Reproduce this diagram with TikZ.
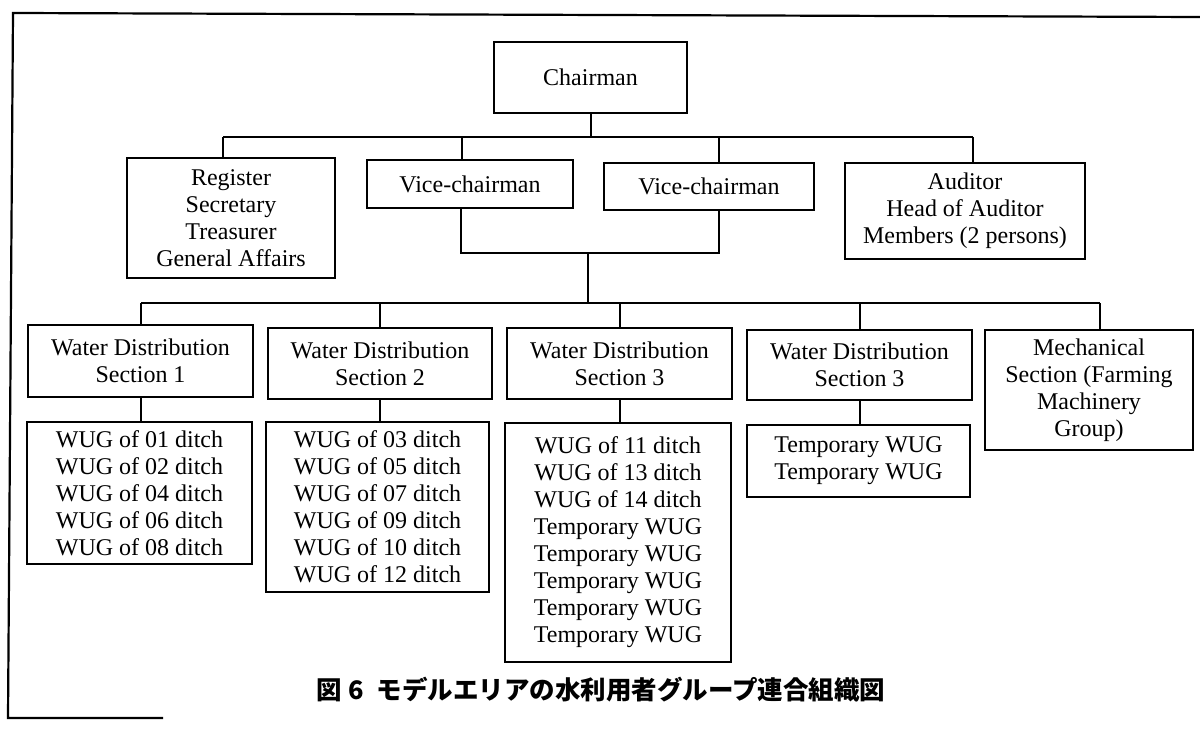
\documentclass[tikz,border=0pt]{standalone}
\usepackage{fontspec}
\setmainfont{Liberation Serif}
\newfontfamily\cjkfont{Noto Sans CJK JP}
\usetikzlibrary{calc}
\begin{document}
\begin{tikzpicture}[x=1pt,y=-1pt,
  box/.style={draw, line width=2pt, rectangle, inner sep=0pt, align=center,
    font=\fontsize{24}{27}\selectfont},
  conn/.style={line width=2pt},
  frameline/.style={line width=2.2pt}]
\useasboundingbox (0,0) rectangle (1200,730);
\fill[white] (0,0) rectangle (1200,730);
% frame
\draw[frameline] (1200,17) -- (13,13) -- (8,718) -- (163,718);
% top level
\node[box, minimum width=193pt, minimum height=71pt] (chair) at (590.5,77.5) {Chairman};
\node[box, minimum width=208pt, minimum height=120pt] (reg) at (231,218) {Register\\Secretary\\Treasurer\\General Affairs};
\node[box, minimum width=206pt, minimum height=48pt] (vc1) at (470,184) {Vice-chairman};
\node[box, minimum width=210pt, minimum height=47pt] (vc2) at (709,186.5) {Vice-chairman};
\node[box, minimum width=240pt, minimum height=96pt] (aud) at (965,211) {Auditor\\Head of Auditor\\Members (2 persons)};
% sections
\node[box, minimum width=225pt, minimum height=72pt] (wds1) at (140.5,361) {Water Distribution\\Section 1};
\node[box, minimum width=224pt, minimum height=71pt] (wds2) at (380,363.5) {Water Distribution\\Section 2};
\node[box, minimum width=225pt, minimum height=71pt] (wds3) at (619.5,363.5) {Water Distribution\\Section 3};
\node[box, minimum width=225pt, minimum height=70pt] (wds4) at (859.5,365) {Water Distribution\\Section 3};
\node[box, minimum width=208pt, minimum height=120pt] (mech) at (1089,390) {Mechanical\\Section (Farming\\Machinery\\Group)};
% WUG boxes
\node[box, minimum width=225pt, minimum height=142pt] (wug1) at (139.5,493) {WUG of 01 ditch\\WUG of 02 ditch\\WUG of 04 ditch\\WUG of 06 ditch\\WUG of 08 ditch};
\node[box, minimum width=223pt, minimum height=170pt] (wug2) at (377.5,507) {WUG of 03 ditch\\WUG of 05 ditch\\WUG of 07 ditch\\WUG of 09 ditch\\WUG of 10 ditch\\WUG of 12 ditch};
\node[box, minimum width=226pt, minimum height=239pt] (wug3) at (618,542.5) {WUG of 11 ditch\\WUG of 13 ditch\\WUG of 14 ditch\\Temporary WUG\\Temporary WUG\\Temporary WUG\\Temporary WUG\\Temporary WUG};
\node[box, minimum width=223pt, minimum height=72pt] (wug4) at (858.5,461) {Temporary WUG\\Temporary WUG};
% connectors: chairman level
\coordinate (busA) at (590,137);
\coordinate (dA1) at (223,137);
\coordinate (dA2) at (462,137);
\coordinate (dA3) at (719,137);
\coordinate (dA4) at (973,137);
\draw[conn] (chair.south) -- (chair.south |- busA);
\draw[conn] (dA1) -- (dA4);
\draw[conn] (dA1) -- (dA1 |- reg.north);
\draw[conn] (dA2) -- (dA2 |- vc1.north);
\draw[conn] (dA3) -- (dA3 |- vc2.north);
\draw[conn] (dA4) -- (dA4 |- aud.north);
% vice-chairmen join
\coordinate (m1) at (461,253);
\coordinate (m2) at (719,253);
\coordinate (mc) at (588,253);
\coordinate (busB) at (588,303);
\draw[conn] (m1 |- vc1.south) -- (m1) -- (m2) -- (m2 |- vc2.south);
\draw[conn] (mc) -- (busB);
% section bus
\coordinate (dB1) at (141,303);
\coordinate (dB2) at (380,303);
\coordinate (dB3) at (620,303);
\coordinate (dB4) at (860,303);
\coordinate (dB5) at (1100,303);
\draw[conn] (dB1) -- (dB5);
\draw[conn] (dB1) -- (dB1 |- wds1.north);
\draw[conn] (dB2) -- (dB2 |- wds2.north);
\draw[conn] (dB3) -- (dB3 |- wds3.north);
\draw[conn] (dB4) -- (dB4 |- wds4.north);
\draw[conn] (dB5) -- (dB5 |- mech.north);
% sections to WUGs
\draw[conn] (wds1.south) -- (wds1.south |- wug1.north);
\draw[conn] (wds2.south) -- (wds2.south |- wug2.north);
\draw[conn] (wds3.south) -- (wds3.south |- wug3.north);
\draw[conn] (wds4.south) -- (wds4.south |- wug4.north);
% caption
\node[font=\cjkfont\bfseries\fontsize{25.5}{26}\selectfont, inner sep=0pt] (cap) at (601,690) {図 6\hspace{13pt}モデルエリアの水利用者グループ連合組織図};
\end{tikzpicture}
\end{document}
